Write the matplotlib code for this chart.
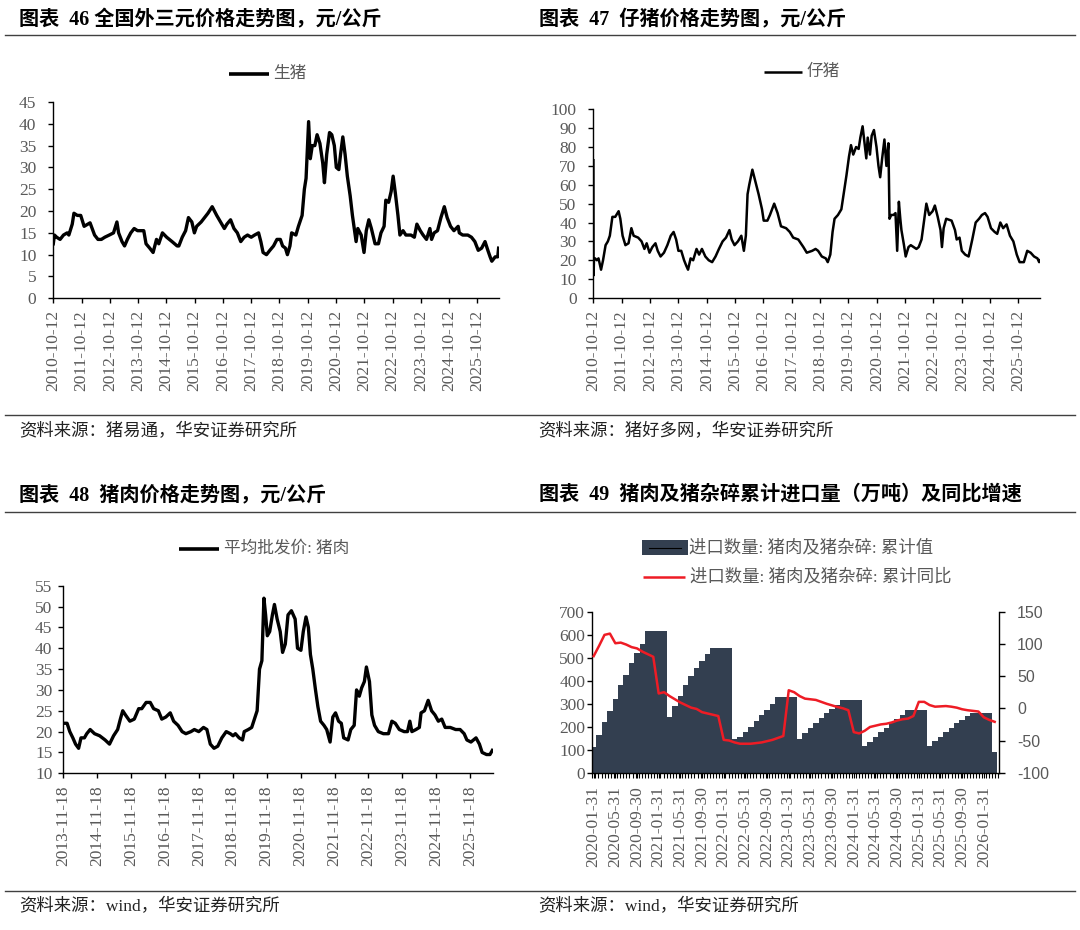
import matplotlib
matplotlib.use("Agg")
import matplotlib.pyplot as plt
from matplotlib.lines import Line2D
from matplotlib.patches import Rectangle
import numpy as np
import pandas as pd

# ---------------- data ----------------
# Chart 46: outer-three-way hog price (yuan/kg); time in decimal years
hog_t = [2010.78, 2010.82, 2010.90, 2011.02, 2011.14, 2011.27, 2011.33, 2011.45, 2011.51, 2011.63,
         2011.75, 2011.87, 2012.00, 2012.08, 2012.24, 2012.36, 2012.48, 2012.60, 2012.76, 2012.91,
         2013.03, 2013.09, 2013.21, 2013.30, 2013.40, 2013.52, 2013.64, 2013.76, 2013.88, 2013.98,
         2014.06, 2014.19, 2014.31, 2014.43, 2014.51, 2014.64, 2014.79, 2014.98, 2015.16, 2015.22,
         2015.34, 2015.46, 2015.56, 2015.68, 2015.77, 2015.85, 2016.01, 2016.13, 2016.25, 2016.40,
         2016.56, 2016.74, 2016.83, 2016.92, 2017.05, 2017.17, 2017.29, 2017.41, 2017.53, 2017.65,
         2017.78, 2017.90, 2018.04, 2018.12, 2018.20, 2018.32, 2018.44, 2018.57, 2018.69, 2018.81,
         2018.89, 2018.99, 2019.06, 2019.15, 2019.21, 2019.36, 2019.45, 2019.58, 2019.66, 2019.72,
         2019.81, 2019.87, 2019.94, 2020.03, 2020.11, 2020.21, 2020.31, 2020.37, 2020.45, 2020.55,
         2020.63, 2020.72, 2020.79, 2020.88, 2020.94, 2021.02, 2021.10, 2021.18, 2021.28, 2021.36,
         2021.49, 2021.55, 2021.67, 2021.77, 2021.85, 2021.94, 2022.03, 2022.16, 2022.28, 2022.37,
         2022.48, 2022.54, 2022.64, 2022.73, 2022.80, 2022.88, 2022.97, 2023.04, 2023.15, 2023.25,
         2023.43, 2023.55, 2023.64, 2023.76, 2023.86, 2023.98, 2024.10, 2024.16, 2024.25, 2024.37,
         2024.49, 2024.61, 2024.71, 2024.83, 2024.95, 2025.10, 2025.14, 2025.26, 2025.44, 2025.57,
         2025.69, 2025.81, 2025.93, 2026.05, 2026.15, 2026.23, 2026.29, 2026.41, 2026.50, 2026.53]
hog_v = [12.5, 14.5, 14.0, 13.5, 14.5, 15.0, 14.5, 17.0, 19.5, 19.0,
         19.0, 16.5, 17.0, 17.3, 14.5, 13.5, 13.5, 14.0, 14.5, 15.0,
         17.5, 15.0, 13.0, 12.0, 13.5, 15.0, 16.0, 15.5, 15.5, 15.5,
         12.5, 11.5, 10.5, 13.5, 12.5, 15.0, 14.0, 13.0, 12.0, 12.0,
         14.0, 15.5, 18.5, 17.5, 15.0, 16.5, 17.5, 18.5, 19.5, 21.0,
         19.0, 17.0, 16.0, 17.0, 18.0, 16.0, 15.0, 13.0, 14.0, 14.5,
         14.0, 14.5, 15.0, 13.0, 10.5, 10.0, 11.0, 12.0, 13.5, 13.5,
         12.0, 11.5, 10.0, 12.0, 15.0, 14.5, 16.5, 19.0, 25.0, 27.5,
         40.5, 32.0, 35.0, 35.0, 37.5, 35.5, 31.0, 26.5, 33.0, 38.0,
         37.5, 35.0, 30.0, 29.5, 33.0, 37.0, 33.0, 28.0, 23.5, 19.0,
         13.0, 16.0, 14.5, 10.5, 15.5, 18.0, 16.0, 12.5, 12.5, 15.0,
         16.5, 22.5, 22.0, 24.5, 28.0, 24.0, 19.0, 14.5, 15.5, 14.5,
         14.5, 14.0, 17.0, 15.5, 14.5, 13.5, 16.0, 13.5, 15.0, 15.5,
         18.5, 21.0, 18.5, 16.5, 15.5, 16.5, 15.0, 14.5, 14.5, 14.0,
         13.0, 11.0, 11.5, 13.0, 11.0, 9.5, 8.5, 9.5, 9.5, 11.5]

# Chart 47: piglet price (yuan/kg)
piglet_t = [2010.78, 2010.785, 2010.80, 2010.84, 2010.90, 2010.96, 2011.05, 2011.12, 2011.21, 2011.29,
            2011.36, 2011.45, 2011.55, 2011.67, 2011.73, 2011.81, 2011.91, 2012.02, 2012.12, 2012.20,
            2012.36, 2012.48, 2012.58, 2012.66, 2012.76, 2012.86, 2012.97, 2013.05, 2013.15, 2013.27,
            2013.39, 2013.51, 2013.61, 2013.70, 2013.78, 2013.88, 2013.98, 2014.06, 2014.12, 2014.21,
            2014.30, 2014.42, 2014.51, 2014.61, 2014.73, 2014.85, 2014.97, 2015.09, 2015.21, 2015.34,
            2015.46, 2015.58, 2015.66, 2015.76, 2015.88, 2016.00, 2016.09, 2016.16, 2016.22, 2016.28,
            2016.39, 2016.49, 2016.61, 2016.73, 2016.79, 2016.92, 2017.01, 2017.16, 2017.28, 2017.40,
            2017.58, 2017.71, 2017.83, 2018.01, 2018.19, 2018.31, 2018.50, 2018.62, 2018.71, 2018.84,
            2018.98, 2019.05, 2019.14, 2019.22, 2019.29, 2019.41, 2019.53, 2019.61, 2019.71, 2019.80,
            2019.87, 2019.95, 2020.05, 2020.14, 2020.20, 2020.28, 2020.35, 2020.41, 2020.46, 2020.54,
            2020.60, 2020.68, 2020.77, 2020.84, 2020.90, 2020.97, 2021.05, 2021.12, 2021.19, 2021.23,
            2021.29, 2021.37, 2021.44, 2021.50, 2021.56, 2021.61, 2021.65, 2021.74, 2021.80, 2021.90,
            2021.98, 2022.08, 2022.18, 2022.26, 2022.36, 2022.44, 2022.53, 2022.63, 2022.75, 2022.83,
            2022.93, 2023.03, 2023.08, 2023.14, 2023.23, 2023.42, 2023.54, 2023.60, 2023.70, 2023.78,
            2023.90, 2024.02, 2024.15, 2024.27, 2024.39, 2024.49, 2024.60, 2024.69, 2024.81, 2024.94,
            2025.03, 2025.14, 2025.24, 2025.36, 2025.48, 2025.60, 2025.72, 2025.82, 2025.97, 2026.09,
            2026.21, 2026.33, 2026.45, 2026.51, 2026.54]
piglet_v = [73, 12, 20, 21, 20, 21, 15, 20, 28, 30,
            33, 43, 43, 46, 42, 33, 28, 29, 37, 33,
            32, 30, 26, 29, 24, 27, 29, 25, 22, 24,
            28, 33, 35, 31, 25, 25, 20, 17, 15, 21,
            20, 26, 23, 26, 22, 20, 19, 22, 26, 30,
            32, 36, 31, 28, 30, 33, 25, 33, 55, 60,
            68, 62, 55, 47, 41, 41, 44, 50, 45, 38,
            37, 35, 32, 31, 27, 24, 25, 26, 25, 22,
            21, 19, 23, 35, 42, 44, 47, 55, 65, 75,
            81, 76, 80, 79, 85, 91, 82, 74, 85, 76,
            86, 89, 80, 70, 64, 74, 84, 70, 82, 42,
            44, 44, 45, 25, 51, 42, 36, 28, 22, 27,
            28, 27, 26, 27, 31, 40, 50, 44, 46, 49,
            43, 36, 27, 37, 42, 41, 36, 31, 32, 25,
            23, 22, 31, 40, 42, 44, 45, 43, 37, 35,
            34, 40, 37, 39, 33, 30, 23, 19, 19, 25,
            24, 22, 21, 19, 20]

# Chart 48: average wholesale pork price (yuan/kg)
pork_t = [2013.88, 2014.00, 2014.08, 2014.17, 2014.25, 2014.34, 2014.41, 2014.51, 2014.58, 2014.68,
          2014.81, 2014.96, 2015.12, 2015.25, 2015.37, 2015.49, 2015.57, 2015.64, 2015.72, 2015.85,
          2015.98, 2016.11, 2016.20, 2016.33, 2016.45, 2016.55, 2016.69, 2016.79, 2016.91, 2017.04,
          2017.14, 2017.27, 2017.39, 2017.50, 2017.65, 2017.75, 2017.88, 2018.02, 2018.12, 2018.22,
          2018.33, 2018.44, 2018.56, 2018.69, 2018.81, 2018.89, 2018.96, 2019.07, 2019.17, 2019.22,
          2019.34, 2019.44, 2019.52, 2019.60, 2019.67, 2019.74, 2019.80, 2019.85, 2019.90, 2019.97,
          2020.05, 2020.11, 2020.19, 2020.28, 2020.35, 2020.43, 2020.51, 2020.61, 2020.72, 2020.79,
          2020.89, 2020.96, 2021.04, 2021.11, 2021.17, 2021.24, 2021.32, 2021.39, 2021.47, 2021.57,
          2021.65, 2021.75, 2021.83, 2021.91, 2022.00, 2022.08, 2022.15, 2022.28, 2022.36, 2022.46,
          2022.53, 2022.61, 2022.68, 2022.76, 2022.82, 2022.91, 2022.98, 2023.06, 2023.17, 2023.32,
          2023.47, 2023.57, 2023.67, 2023.79, 2023.93, 2024.03, 2024.10, 2024.16, 2024.28, 2024.38,
          2024.43, 2024.53, 2024.64, 2024.74, 2024.84, 2024.94, 2025.04, 2025.14, 2025.29, 2025.45,
          2025.58, 2025.70, 2025.78, 2025.90, 2026.05, 2026.15, 2026.23, 2026.36, 2026.46, 2026.53]
pork_v = [22, 22, 20, 18.5, 17, 16, 18.5, 18.5, 19.5, 20.5,
          19.5, 19, 18, 17, 19, 20.5, 23, 25, 24, 22.5,
          23, 25.5, 25.5, 27, 27, 25.5, 25, 23, 23.5, 24.5,
          22.5, 21.5, 20, 19.5, 20, 20.5, 20, 21, 20.5, 17,
          16, 16.5, 18.5, 20, 19.5, 19, 19.5, 18.5, 18, 20,
          20.5, 21, 23, 25, 35, 37, 52, 48, 43, 44,
          48, 50.5, 47, 44, 39, 41, 48, 49, 47, 40,
          39.5, 44, 47.5, 45, 38.5, 35, 30, 26, 22.5, 21.5,
          20.5, 17.5, 23.5, 24.5, 22.5, 22, 18.5, 18, 20.5, 21.5,
          30, 28.5, 30.5, 32, 35.5, 32, 24, 21.5, 20, 19.5,
          19.5, 22.5, 22, 20.5, 20, 20, 22.5, 20, 20.5, 21,
          24.5, 25, 27.5, 25, 24, 22.5, 23, 21, 21, 20.5,
          20.5, 19.5, 18, 17.5, 18.5, 17, 15, 14.5, 14.5, 15.5]

# Chart 49: cumulative pork & offal imports (10k t) and cumulative YoY (%), monthly from 2020-01
imp_months = [d.strftime("%Y-%m-%d") for d in pd.date_range("2020-01-31", periods=75, freq="ME")]
imp_cum = [113, 165, 219, 269, 322, 380, 425, 476, 520, 559, 615, 615,
           615, 615, 244, 292, 335, 383, 421, 454, 486, 515, 543, 543,
           543, 543, 148, 157, 176, 199, 224, 249, 272, 300, 329, 329,
           329, 329, 147, 173, 194, 217, 239, 261, 279, 295, 316, 316,
           316, 316, 115, 135, 154, 176, 194, 214, 234, 253, 271, 271,
           271, 271, 118, 138, 157, 176, 195, 214, 231, 246, 261, 261,
           261, 261, 89]
imp_yoy = [81, 97, 114, 116, 101, 102, 99, 95, 93, 88, 84, 80,
           23, 25, 19, 14, 9, 5, 1, -1, -6, -8, -10, -12,
           -49, -50, -53, -55, -55, -55, -54, -53, -51, -49, -46, -43,
           28, 25, 19, 15, 14, 13, 10, 7, 4.5, 2, 0, -3,
           -37, -39, -35, -29, -27, -25, -24, -22, -19, -17, -16, -12,
           10, 10, 5, 2.5, 3, 3.5, 2.5, 1, -1.5, -3, -4, -5,
           -14, -18, -21]

# ---------------- styling ----------------
plt.rcParams["font.family"] = ["Liberation Serif", "Noto Sans CJK SC"]
plt.rcParams["axes.unicode_minus"] = False

W, H = 1080, 930
GRAY = "#595959"
BAR = "#333F50"
RED = "#EE1C25"

fig = plt.figure(figsize=(W / 100, H / 100), dpi=100)


def fx(x):
    return x / W


def fy(y):
    return 1 - y / H


def axes_px(l, r, t, b):
    return fig.add_axes([fx(l), fy(b), (r - l) / W, (b - t) / H])


def hline(x0, x1, y, color="#404040", lw=1.0):
    fig.add_artist(Line2D([fx(x0), fx(x1)], [fy(y), fy(y)], color=color, lw=lw,
                          transform=fig.transFigure))


def title(x, y, s):
    fig.text(fx(x), fy(y), s, fontsize=14.5, fontweight="bold", ha="left", va="center",
             color="black")


def source(x, y, s):
    fig.text(fx(x), fy(y), s, fontsize=12.5, ha="left", va="center", color="#222222")


def legend_line(x0, x1, y, label, color="black", lw=2.4, fs=12):
    fig.add_artist(Line2D([fx(x0), fx(x1)], [fy(y), fy(y)], color=color, lw=lw,
                          transform=fig.transFigure, solid_capstyle="butt"))
    fig.text(fx(x1 + 5), fy(y), label, fontsize=fs, ha="left", va="center", color=GRAY)


def base_style(ax, ypad, xpad):
    for s in ["top", "right"]:
        ax.spines[s].set_visible(False)
    for s in ["left", "bottom"]:
        ax.spines[s].set_linewidth(1.0)
        ax.spines[s].set_color("black")
    ax.tick_params(axis="y", direction="out", length=3.6, width=1.0, pad=ypad,
                   labelsize=12.5, labelcolor=GRAY)
    ax.tick_params(axis="x", direction="out", length=3.6, width=1.0, pad=xpad,
                   labelsize=12.5, labelcolor=GRAY, labelrotation=90)


# rules
for y in (35, 415, 511.7, 890.7):
    hline(5, 1075, y)

# ---------------- chart 46 ----------------
title(19, 20, "图表  46 全国外三元价格走势图，元/公斤")
legend_line(229, 268.6, 74, "生猪", lw=2.6)
ax1 = axes_px(53.3, 498.6, 102, 298.3)
ax1.plot(hog_t, hog_v, color="black", lw=2.4, solid_joinstyle="round")
ax1.set_xlim(2010.78, 2026.53)
ax1.set_ylim(0, 45)
ax1.set_yticks(np.arange(0, 46, 5))
ax1.set_xticks([2010.78 + k for k in range(16)])
ax1.set_xticklabels([f"{2010 + k}-10-12" for k in range(16)])
base_style(ax1, ypad=8.5, xpad=5)
source(19, 431.7, "资料来源：猪易通，华安证券研究所")

# ---------------- chart 47 ----------------
title(539, 20, "图表  47  仔猪价格走势图，元/公斤")
legend_line(763.8, 801.7, 71.7, "仔猪", lw=1.8)
ax2 = axes_px(593.4, 1040, 109.3, 298)
ax2.plot(piglet_t, piglet_v, color="black", lw=1.8, solid_joinstyle="round")
ax2.set_xlim(2010.78, 2026.54)
ax2.set_ylim(0, 100)
ax2.set_yticks(np.arange(0, 101, 10))
ax2.set_xticks([2010.78 + k for k in range(16)])
ax2.set_xticklabels([f"{2010 + k}-10-12" for k in range(16)])
base_style(ax2, ypad=8.5, xpad=5)
source(538, 431.7, "资料来源：猪好多网，华安证券研究所")

# ---------------- chart 48 ----------------
title(19, 495, "图表  48  猪肉价格走势图，元/公斤")
legend_line(179, 218.7, 549, "平均批发价: 猪肉", lw=2.6)
ax3 = axes_px(63, 493, 585.7, 773.3)
ax3.plot(pork_t, pork_v, color="black", lw=2.4, solid_joinstyle="round")
ax3.set_xlim(2013.88, 2026.55)
ax3.set_ylim(10, 55)
ax3.set_yticks(np.arange(10, 56, 5))
ax3.set_xticks([2013.88 + k for k in range(13)])
ax3.set_xticklabels([f"{2013 + k}-11-18" for k in range(13)])
base_style(ax3, ypad=4, xpad=5)
source(19, 906.7, "资料来源：wind，华安证券研究所")

# ---------------- chart 49 ----------------
title(539, 495, "图表  49  猪肉及猪杂碎累计进口量（万吨）及同比增速")
fig.add_artist(Rectangle((fx(641.6), fy(555)), (688 - 641.6) / W, 15 / H,
                         transform=fig.transFigure, facecolor=BAR, edgecolor="none"))
fig.add_artist(Line2D([fx(648.5), fx(681)], [fy(547.5), fy(547.5)], color="black", lw=0.8,
                      transform=fig.transFigure))
fig.text(fx(689), fy(548), "进口数量: 猪肉及猪杂碎: 累计值", fontsize=12.5, ha="left",
         va="center", color=GRAY)
legend_line(643, 684.6, 577.3, "进口数量: 猪肉及猪杂碎: 累计同比", color=RED, lw=1.8, fs=12.5)

ax4 = axes_px(592.3, 999, 611.7, 772.7)
xm = np.arange(len(imp_cum))
ax4.bar(xm, imp_cum, width=1.0, color=BAR, linewidth=0)
ax4.set_xlim(-0.25, 74.8)
ax4.set_ylim(0, 700)
ax4.set_yticks(np.arange(0, 701, 100))
ax4.set_xticks(xm[::4])
ax4.set_xticklabels(imp_months[::4])
ax4.set_xticks(np.arange(-0.25, 74.8, 4 / 7), minor=True)
base_style(ax4, ypad=1.5, xpad=6)
ax4.tick_params(axis="x", which="minor", direction="out", length=3.6, width=0.8)
ax4.tick_params(axis="x", which="major", length=3.6, width=0.8)

ax4b = ax4.twinx()
ax4b.plot(xm, imp_yoy, color=RED, lw=1.8, solid_joinstyle="round")
ax4b.set_ylim(-100, 150)
ax4b.set_yticks(np.arange(-100, 151, 50))
for s in ["top", "left", "bottom"]:
    ax4b.spines[s].set_visible(False)
ax4b.spines["right"].set_linewidth(1.0)
ax4b.tick_params(axis="y", direction="out", length=4, width=1.0, pad=9,
                 labelsize=11.5, labelcolor=GRAY)
for lab in ax4b.get_yticklabels():
    lab.set_family(["Liberation Sans", "DejaVu Sans"])
source(538, 906.7, "资料来源：wind，华安证券研究所")

fig.savefig("out.png", dpi=100)
